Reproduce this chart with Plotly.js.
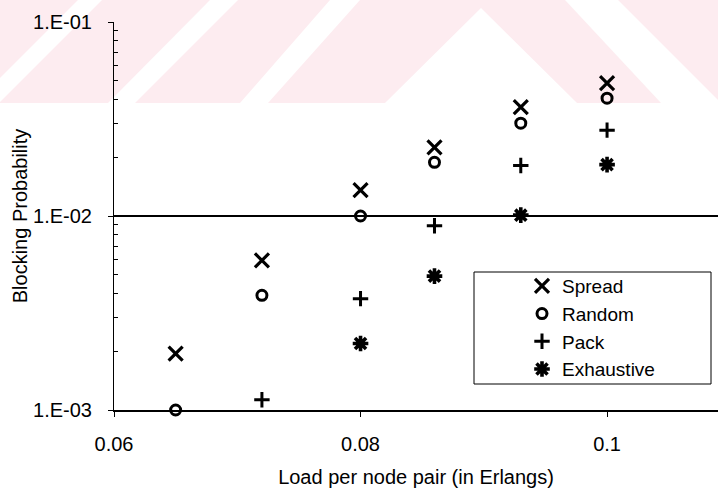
<!DOCTYPE html>
<html>
<head>
<meta charset="utf-8">
<script src="https://cdn.plot.ly/plotly-3.0.1.min.js"></script>
<style>
  html, body { margin: 0; padding: 0; background: #ffffff; }
  #chart { width: 718px; height: 488px; }
</style>
</head>
<body>
<div id="chart"></div>
<script>
// ---- data ----
const loads = [0.065, 0.072, 0.08, 0.086, 0.093, 0.1];
const spread = [0.00195, 0.0059, 0.0136, 0.0226, 0.0364, 0.0484];
const random = [0.001, 0.0039, 0.01, 0.0189, 0.0301, 0.0405];
const pack = [null, 0.00113, 0.00375, 0.0089, 0.0182, 0.0277];
const exhaustive = [null, null, 0.0022, 0.0049, 0.0101, 0.0184];
const seriesNames = ["Spread", "Random", "Pack", "Exhaustive"];
const yTickVals = [0.001, 0.01, 0.1];
const yTickText = ["1.E-03", "1.E-02", "1.E-01"];
const yMinorVals = [0.002, 0.003, 0.004, 0.005, 0.006, 0.007, 0.008, 0.009,
                    0.02, 0.03, 0.04, 0.05, 0.06, 0.07, 0.08, 0.09];
const xTickVals = [0.06, 0.08, 0.1];
const xTickText = ["0.06", "0.08", "0.1"];

// ---- geometry helpers (pixel -> paper) ----
const L = 114, T = 22, W = 604, H = 388;
const px = x => (x - L) / W;
const py = y => (T + H - y) / H;
function poly(pts) {
  return pts.map((p, i) => (i ? "L" : "M") + px(p[0]).toFixed(5) + "," + py(p[1]).toFixed(5)).join(" ") + " Z";
}

const FONT = "Liberation Sans, Arial, Helvetica, sans-serif";
const black = "#000000";

function mk(name, y, symbol, size, lw) {
  return {
    type: "scatter", mode: "markers", name: name, x: loads, y: y,
    cliponaxis: false,
    marker: { symbol: symbol, size: size, color: black, line: { color: black, width: lw } }
  };
}

const traces = [
  mk(seriesNames[0], spread, "x-thin-open", 14, 3.2),
  mk(seriesNames[1], random, "circle-open", 10, 3),
  mk(seriesNames[2], pack, "cross-thin-open", 11, 3),
  mk(seriesNames[3], exhaustive, "asterisk-open", 13, 3.6)
];

const pink = "rgb(253,236,240)";
const shapes = [
  { type: "rect", xref: "paper", yref: "paper", x0: px(0), x1: px(718), y0: py(103), y1: py(0),
    fillcolor: pink, line: { width: 0 }, layer: "below" },
  { type: "path", xref: "paper", yref: "paper", path: poly([[78,0],[102,0],[0,102],[0,78]]),
    fillcolor: "#ffffff", line: { width: 0 }, layer: "below" },
  { type: "path", xref: "paper", yref: "paper", path: poly([[210,0],[238,0],[135,103],[108,103]]),
    fillcolor: "#ffffff", line: { width: 0 }, layer: "below" },
  { type: "path", xref: "paper", yref: "paper", path: poly([[330,0],[360,0],[268,103],[240,103]]),
    fillcolor: "#ffffff", line: { width: 0 }, layer: "below" },
  { type: "path", xref: "paper", yref: "paper", path: poly([[385,103],[481,8],[577,103]]),
    fillcolor: "#ffffff", line: { width: 0 }, layer: "below" },
  { type: "path", xref: "paper", yref: "paper", path: poly([[565,0],[618,0],[718,100],[718,103],[661,103]]),
    fillcolor: "#ffffff", line: { width: 0 }, layer: "below" },
  // legend frame
  { type: "rect", xref: "paper", yref: "paper", x0: px(474), x1: px(711), y0: py(384), y1: py(272),
    fillcolor: "#ffffff", line: { color: black, width: 1 }, layer: "below" }
];

const layout = {
  width: 718, height: 488,
  margin: { l: L, r: 718 - L - W, t: T, b: 488 - T - H, pad: 0 },
  paper_bgcolor: "rgba(0,0,0,0)",
  plot_bgcolor: "rgba(0,0,0,0)",
  font: { family: FONT, size: 20, color: black },
  showlegend: true,
  legend: {
    x: px(522), xanchor: "left", y: py(267), yanchor: "top",
    bgcolor: "rgba(0,0,0,0)", borderwidth: 0,
    font: { family: FONT, size: 19, color: black },
    itemclick: false
  },
  xaxis: {
    type: "linear", range: [0.06, 0.06 + 0.049],
    tickmode: "array", tickvals: xTickVals, ticktext: xTickText,
    ticks: "outside", ticklen: 5, tickwidth: 1, tickcolor: black,
    ticklabelstandoff: 10,
    showline: true, linecolor: black, linewidth: 2,
    showgrid: false, zeroline: false,
    tickfont: { family: FONT, size: 20, color: black },
    title: { text: "Load per node pair (in Erlangs)", font: { family: FONT, size: 20, color: black }, standoff: 16 }
  },
  yaxis: {
    type: "log", range: [-3, -1],
    tickmode: "array", tickvals: yTickVals, ticktext: yTickText,
    ticks: "outside", ticklen: 5, tickwidth: 1, tickcolor: black,
    ticklabelstandoff: 12,
    minor: { tickmode: "array", tickvals: yMinorVals, ticks: "inside", ticklen: 4, tickwidth: 1, tickcolor: black, showgrid: false },
    showline: true, linecolor: black, linewidth: 1,
    showgrid: false, zeroline: false,
    tickfont: { family: FONT, size: 20, color: black },
    title: { text: "Blocking Probability", font: { family: FONT, size: 20, color: black }, standoff: 0 }
  },
  yaxis2: {
    type: "log", range: [-3, -1], overlaying: "y", side: "left",
    tickmode: "array", tickvals: [yTickVals[1]],
    showticklabels: false, ticks: "",
    showgrid: true, gridcolor: black, gridwidth: 1.2,
    showline: false, zeroline: false
  },
  shapes: shapes
};

// invisible helper trace so the overlay axis (gridline at 1.E-02) is drawn
traces.push({ type: "scatter", x: [loads[0]], y: [yTickVals[1]], yaxis: "y2", mode: "markers",
  marker: { opacity: 0 }, showlegend: false, hoverinfo: "skip" });

Plotly.newPlot("chart", traces, layout, { staticPlot: true, displayModeBar: false });
</script>
</body>
</html>
